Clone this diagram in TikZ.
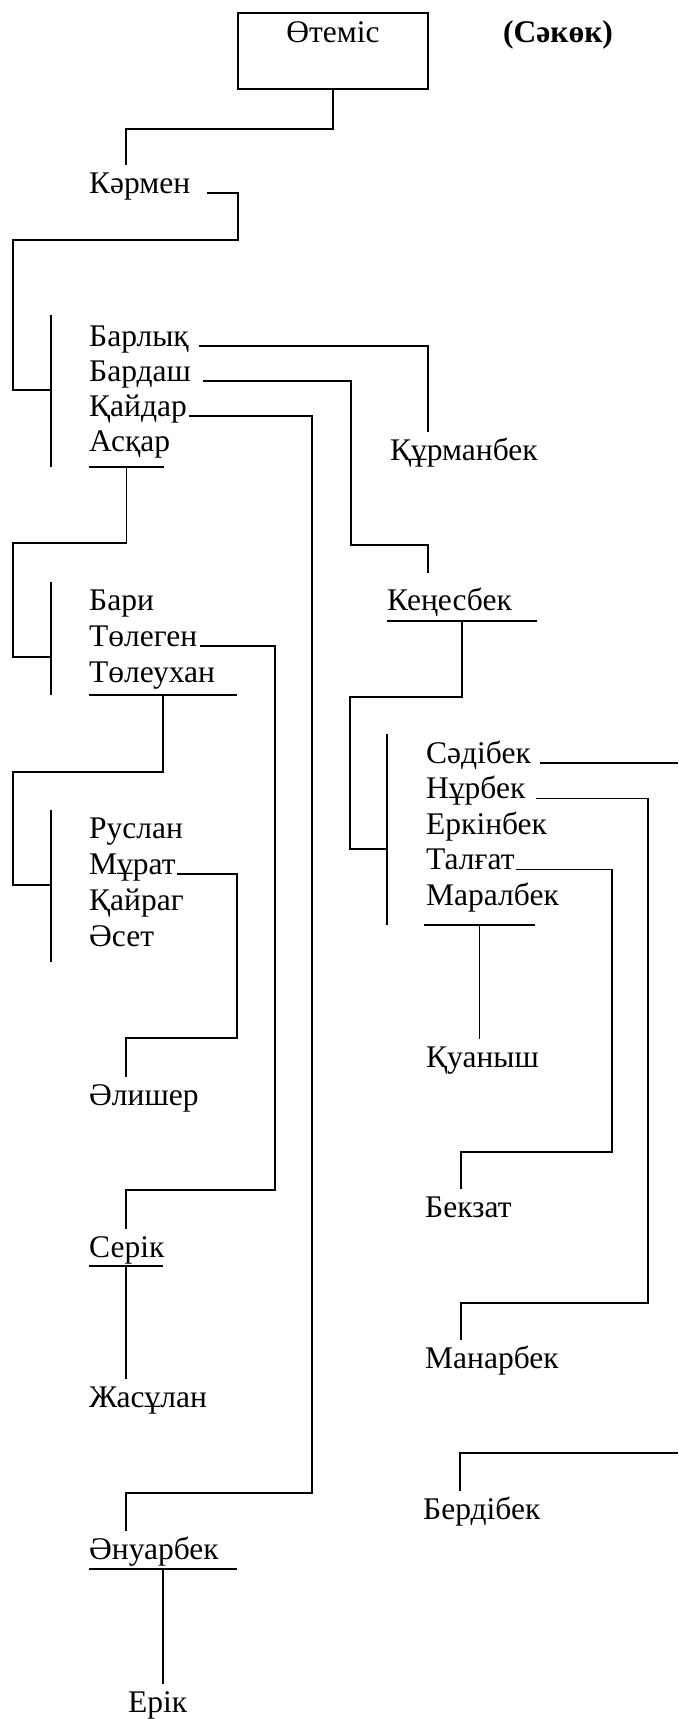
\documentclass[tikz,border=0pt]{standalone}
\usepackage{fontspec}
\setmainfont{Liberation Serif}
\usetikzlibrary{positioning,calc}
\tikzset{
  person/.style={anchor=base west,inner sep=0pt,font=\fontsize{31.5}{38}\selectfont,
    text height=20pt,text depth=6pt},
  rootbox/.style={draw,line width=2.2pt,minimum width=190pt,minimum height=76pt,
    inner xsep=0pt,inner ysep=9pt,text height=20pt,text depth=38pt,
    font=\fontsize{31.5}{38}\selectfont},
  link/.style={line width=1.8pt,line join=miter},
}
\begin{document}
\begin{tikzpicture}[x=1pt,y=-1pt]
\useasboundingbox (0,0) rectangle (678,1719);
\coordinate (pageE) at (678,0);

%% ── Өтеміс ───────────────────────────────────────────────────────────────
\node[rootbox] (root) at (333,51) {Өтеміс};
\node[person,font=\fontsize{31.5}{38}\selectfont\bfseries] (clan) at (503,42) {(Сәкөк)};
\node[person] (karmen) at (89,193) {Кәрмен};
\draw[link] (root.south) -- ++(0,39) -| ([xshift=37pt,yshift=8pt]karmen.north west);

%% ── Кәрмен's sons ────────────────────────────────────────────────────────
\node[person] (barlyq) at (89,346) {Барлық};
\node[person,below=35pt of barlyq.base west,anchor=base west] (bardash) {Бардаш};
\node[person,below=35pt of bardash.base west,anchor=base west] (qaidar) {Қайдар};
\node[person,below=35pt of qaidar.base west,anchor=base west] (askar) {Асқар};
\draw[link] ([yshift=-16pt]askar.base west) -- coordinate (askarU) ++(75,0);
\draw[link] ([xshift=-38pt,yshift=11pt]barlyq.north west) -- ([xshift=-38pt,yshift=-16pt]askar.base west);
\coordinate (grpA) at ([xshift=-38pt,yshift=-44pt]barlyq.base west);
\draw[link] ([xshift=17pt]karmen.base east) -| ([xshift=149pt,yshift=-47pt]karmen.base west)
            -| ([xshift=-38pt]grpA) -- (grpA);

%% ── Барлық, Бардаш ───────────────────────────────────────────────────────
\node[person] (qurman) at (390,460) {Құрманбек};
\draw[link] ([xshift=10pt]barlyq.base east) -| ([xshift=38pt,yshift=8pt]qurman.north west);
\node[person] (kenes) at (387,610) {Кеңесбек};
\draw[link] ([yshift=-11pt]kenes.base west) -- coordinate (kenesU) ++(150,0);
\draw[link] ([xshift=12pt]bardash.base east) -| ([xshift=-36pt,yshift=65pt]kenes.base west)
            -| ([xshift=41pt,yshift=17pt]kenes.north west);

%% ── Асқар's sons ─────────────────────────────────────────────────────────
\node[person] (bari) at (89,610) {Бари};
\node[person,below=36pt of bari.base west,anchor=base west] (tolegen) {Төлеген};
\node[person,below=36pt of tolegen.base west,anchor=base west] (toleukhan) {Төлеухан};
\draw[link] ([yshift=-13pt]toleukhan.base west) -- coordinate (toleuU) ++(148,0);
\draw[link] ([xshift=-38pt,yshift=8pt]bari.north west) -- ([xshift=-38pt,yshift=-13pt]toleukhan.base west);
\coordinate (grpB) at ([xshift=-38pt,yshift=-47pt]bari.base west);
\draw[link] (askarU) -- ++(0,76) -| ([xshift=-38pt]grpB) -- (grpB);

%% ── Төлеухан's sons ──────────────────────────────────────────────────────
\node[person] (ruslan) at (89,838) {Руслан};
\node[person,below=36pt of ruslan.base west,anchor=base west] (murat) {Мұрат};
\node[person,below=36pt of murat.base west,anchor=base west] (kairag) {Қайраг};
\node[person,below=36pt of kairag.base west,anchor=base west] (aset) {Әсет};
\draw[link] ([xshift=-38pt,yshift=8pt]ruslan.north west) -- ([xshift=-38pt,yshift=-16pt]aset.base west);
\coordinate (grpD) at ([xshift=-38pt,yshift=-47pt]ruslan.base west);
\draw[link] (toleuU) -- ++(0,77) -| ([xshift=-38pt]grpD) -- (grpD);

%% ── Мұрат, Төлеген, Қайдар ───────────────────────────────────────────────
\node[person] (alisher) at (89,1105) {Әлишер};
\draw[link] ([xshift=1pt]murat.base east) -| ([xshift=148pt,yshift=67pt]alisher.base west)
            -| ([xshift=37pt,yshift=8pt]alisher.north west);
\node[person] (serik) at (89,1257) {Серік};
\draw[link] ([yshift=-9pt]serik.base west) -- coordinate (serikU) ++(74,0);
\draw[link] ([xshift=3pt]tolegen.base east) -| ([xshift=186pt,yshift=67pt]serik.base west)
            -| ([xshift=37pt,yshift=8pt]serik.north west);
\node[person] (zhasulan) at (89,1407) {Жасұлан};
\draw[link] (serikU) -- ([yshift=8pt]zhasulan.north -| serikU);
\node[person] (anuar) at (89,1559) {Әнуарбек};
\draw[link] ([yshift=-10pt]anuar.base west) -- coordinate (anuarU) ++(148,0);
\draw[link] ([xshift=2pt]qaidar.base east) -| ([xshift=223pt,yshift=66pt]anuar.base west)
            -| ([xshift=37pt,yshift=8pt]anuar.north west);
\node[person] (erik) at (128,1712) {Ерік};
\draw[link] (anuarU) -- ([yshift=8pt]erik.north -| anuarU);

%% ── Кеңесбек's sons ──────────────────────────────────────────────────────
\node[person] (sadibek) at (426,763) {Сәдібек};
\node[person,below=35.5pt of sadibek.base west,anchor=base west] (nurbek) {Нұрбек};
\node[person,below=35.5pt of nurbek.base west,anchor=base west] (erkinbek) {Еркінбек};
\node[person,below=35.5pt of erkinbek.base west,anchor=base west] (talgat) {Талғат};
\node[person,below=35.5pt of talgat.base west,anchor=base west] (maralbek) {Маралбек};
\draw[link] ([xshift=-2pt,yshift=-20pt]maralbek.base west) -- coordinate (maralU) ++(111,0);
\draw[link] ([xshift=-39pt,yshift=9pt]sadibek.north west) -- ([xshift=-39pt,yshift=-20pt]maralbek.base west);
\coordinate (grpC) at ([xshift=-39pt,yshift=-86pt]sadibek.base west);
\draw[link] (kenesU) -- ++(0,76) -| ([xshift=-37pt]grpC) -- (grpC);
\draw[link] ([xshift=9pt]sadibek.base east) -- (sadibek.base east -| pageE);

%% ── Маралбек, Талғат, Нұрбек ─────────────────────────────────────────────
\node[person] (quanysh) at (426,1067) {Қуаныш};
\draw[link] (maralU) -- ([yshift=8pt]quanysh.north -| maralU);
\node[person] (bekzat) at (425,1217) {Бекзат};
\draw[link] ([xshift=1pt]talgat.base east) -| ([xshift=187pt,yshift=65pt]bekzat.base west)
            -| ([xshift=36pt,yshift=8pt]bekzat.north west);
\node[person] (manar) at (425,1368) {Манарбек};
\draw[link] ([xshift=10pt]nurbek.base east) -| ([xshift=223pt,yshift=65pt]manar.base west)
            -| ([xshift=36pt,yshift=8pt]manar.north west);
\node[person] (berdi) at (423,1519) {Бердібек};
\draw[link] ([xshift=37pt,yshift=8pt]berdi.north west) |- ([yshift=66pt]berdi.base west -| pageE);

\end{tikzpicture}
\end{document}
